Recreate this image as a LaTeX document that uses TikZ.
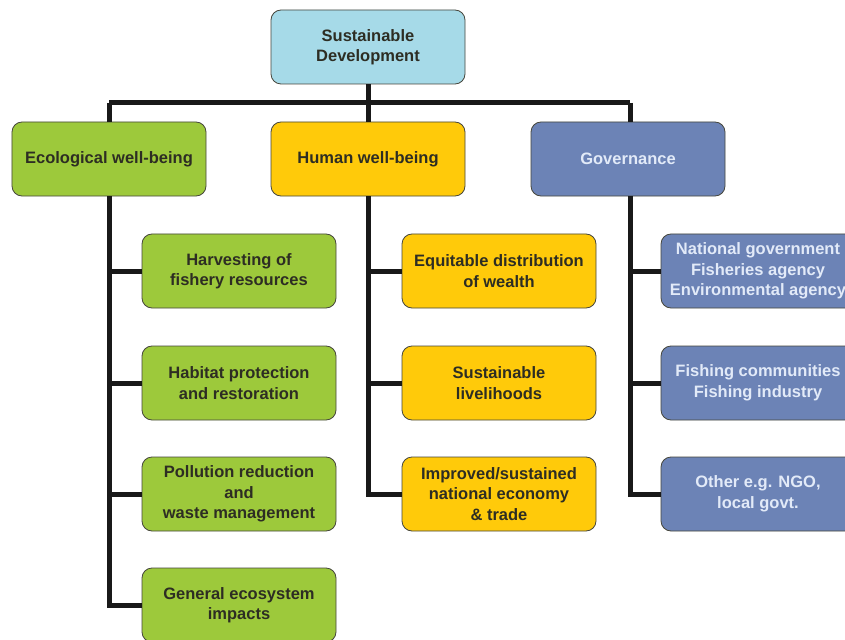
\documentclass[tikz,border=0pt]{standalone}
\usepackage{fontspec}
\setmainfont{Liberation Sans}
\definecolor{topblue}{RGB}{166,218,232}
\definecolor{ecogreen}{RGB}{157,201,59}
\definecolor{humyellow}{RGB}{255,202,10}
\definecolor{govblue}{RGB}{108,131,182}
\definecolor{govtext}{RGB}{226,234,248}
\definecolor{darktext}{RGB}{45,45,35}
\definecolor{boxborder}{RGB}{70,70,60}
\definecolor{connc}{RGB}{25,25,25}
\begin{document}
\begin{tikzpicture}[x=1bp,y=-1bp,
  box/.style={draw=boxborder, line width=0.8bp, rounded corners=10bp,
    minimum width=194bp, minimum height=74bp, align=center,
    font=\fontsize{16.5bp}{20.5bp}\selectfont\bfseries, text=darktext, inner sep=2bp},
  topbox/.style={box, fill=topblue},
  ecobox/.style={box, fill=ecogreen},
  humbox/.style={box, fill=humyellow},
  govbox/.style={box, fill=govblue, text=govtext},
  conn/.style={draw=connc, line width=5bp}]
\path[use as bounding box, clip] (0,0) rectangle (845,640);
\fill[white] (0,0) rectangle (845,640);
\node[topbox] (top) at (368,47) {Sustainable\\Development};
\node[ecobox] (eco) at (109,159) {Ecological well-being};
\node[humbox] (hum) at (368,159) {Human well-being};
\node[govbox] (gov) at (628,159) {Governance};
\node[ecobox] (e1) at (239,271) {Harvesting of\\fishery resources};
\node[ecobox] (e2) at (239,383) {Habitat protection\\and restoration};
\node[ecobox] (e3) at (239,494) {Pollution reduction\\and\\waste management};
\node[ecobox] (e4) at (239,605) {General ecosystem\\impacts};
\node[humbox] (h1) at (499,271) {Equitable distribution\\of wealth};
\node[humbox] (h2) at (499,383) {Sustainable\\livelihoods};
\node[humbox] (h3) at (499,494) {Improved/sustained\\national economy\\\& trade};
\node[govbox] (g1) at (758,271) {National government\\Fisheries agency\\Environmental agency};
\node[govbox] (g2) at (758,383) {Fishing communities\\Fishing industry};
\node[govbox] (g3) at (758,494) {Other e.g. NGO,\\local govt.};
\draw[conn] (top.south) -- (hum.north);
\draw[conn] (eco.north |- 0,103) -- (630,103);
\draw[conn] (eco.north |- 0,103) -- (eco.north);
\draw[conn] (630,103) -- (630,122);
% ecological branch
\draw[conn] (eco.south) -- (eco.south |- e4.west) -- (e4.west);
\draw[conn] (eco.south |- e1.west) -- (e1.west);
\draw[conn] (eco.south |- e2.west) -- (e2.west);
\draw[conn] (eco.south |- e3.west) -- (e3.west);
% human branch
\draw[conn] (hum.south) -- (hum.south |- h3.west) -- (h3.west);
\draw[conn] (hum.south |- h1.west) -- (h1.west);
\draw[conn] (hum.south |- h2.west) -- (h2.west);
% governance branch
\draw[conn] (630,196) -- (630,494) -- (g3.west);
\draw[conn] (630,271) -- (g1.west);
\draw[conn] (630,383) -- (g2.west);
\end{tikzpicture}
\end{document}
